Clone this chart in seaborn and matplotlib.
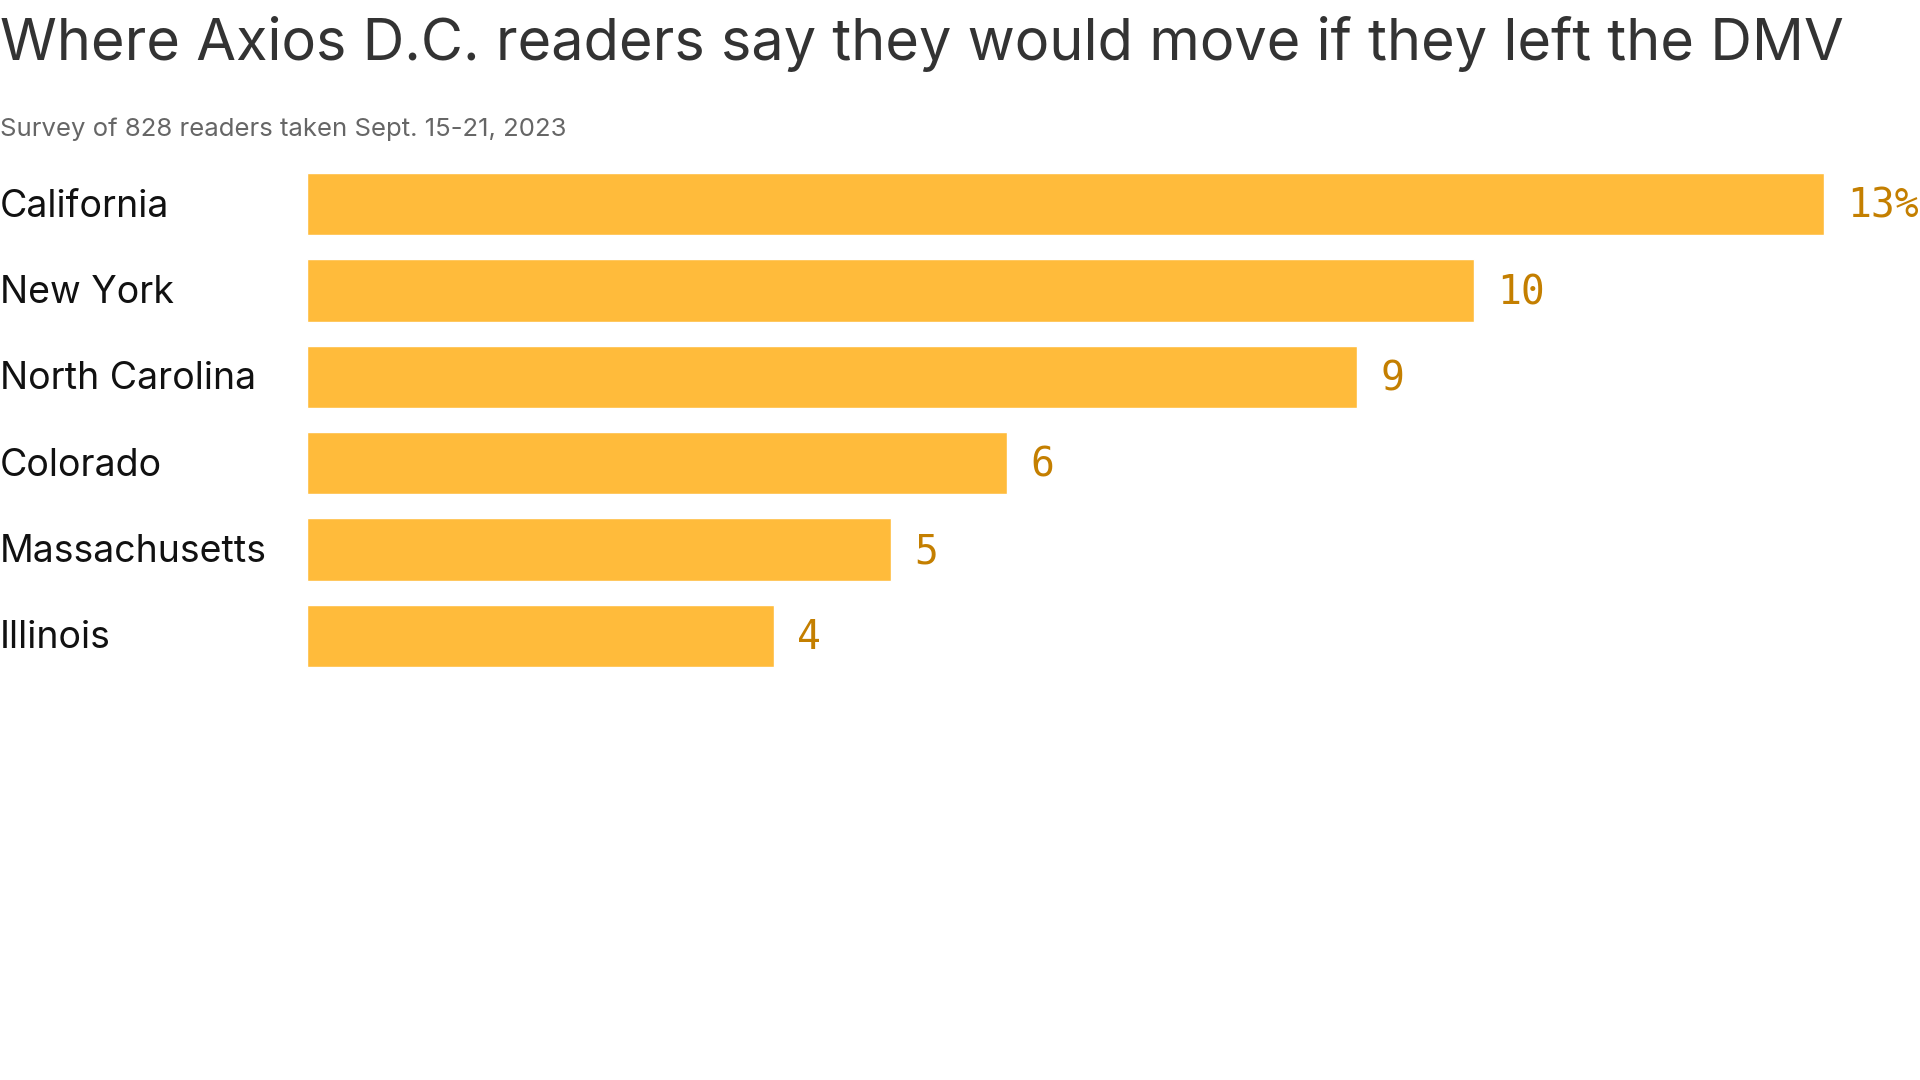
import matplotlib
matplotlib.use('Agg')
import matplotlib.pyplot as plt
import matplotlib.transforms as mtransforms
import seaborn as sns
import pandas as pd

# 数据
states = ['California', 'New York', 'North Carolina', 'Colorado', 'Massachusetts', 'Illinois']
shares = [13, 10, 9, 6, 5, 4]
share_labels = ['13%', '10', '9', '6', '5', '4']

title = 'Where Axios D.C. readers say they would move if they left the DMV'
subtitle = 'Survey of 828 readers taken Sept. 15-21, 2023'

bar_color = '#FFBB3B'
label_color = '#C47F00'

df = pd.DataFrame({'state': states, 'share': shares})

sns.set_theme(style='white')
plt.rcParams['font.family'] = ['Inter', 'DejaVu Sans']

fig = plt.figure(figsize=(19.2, 10.8), dpi=100)
ax = fig.add_axes([307 / 1920, 1 - 679 / 1080, 1613 / 1920, 518 / 1080])

sns.barplot(data=df, x='share', y='state', orient='h', color=bar_color,
            saturation=1, width=0.72, ax=ax)

ax.set_xlim(0, 1613 / 116.7)
ax.set_ylim(len(states) - 0.5, -0.5)
ax.set_xlabel('')
ax.set_ylabel('')
ax.set_xticks([])
ax.set_yticks([])
sns.despine(ax=ax, left=True, bottom=True)

# 州名标签（左对齐在画布左边）
trans = mtransforms.blended_transform_factory(fig.transFigure, ax.transData)
for i, name in enumerate(states):
    ax.text(0.0, i + 0.03, name, transform=trans, ha='left', va='center',
            fontsize=27, color='#111111')

# 数值标签
for i, (v, lab) in enumerate(zip(shares, share_labels)):
    ax.text(v + 0.2, i + 0.03, lab, ha='left', va='center', fontsize=28.5,
            color=label_color, family=['DejaVu Sans Mono'], clip_on=False)

fig.text(0.0, 1 - 60 / 1080, title, ha='left', va='baseline',
         fontsize=41.5, color='#333333')
fig.text(0.0, 1 - 136 / 1080, subtitle, ha='left', va='baseline',
         fontsize=18.5, color='#666666')

fig.savefig('out.png', dpi=100)
